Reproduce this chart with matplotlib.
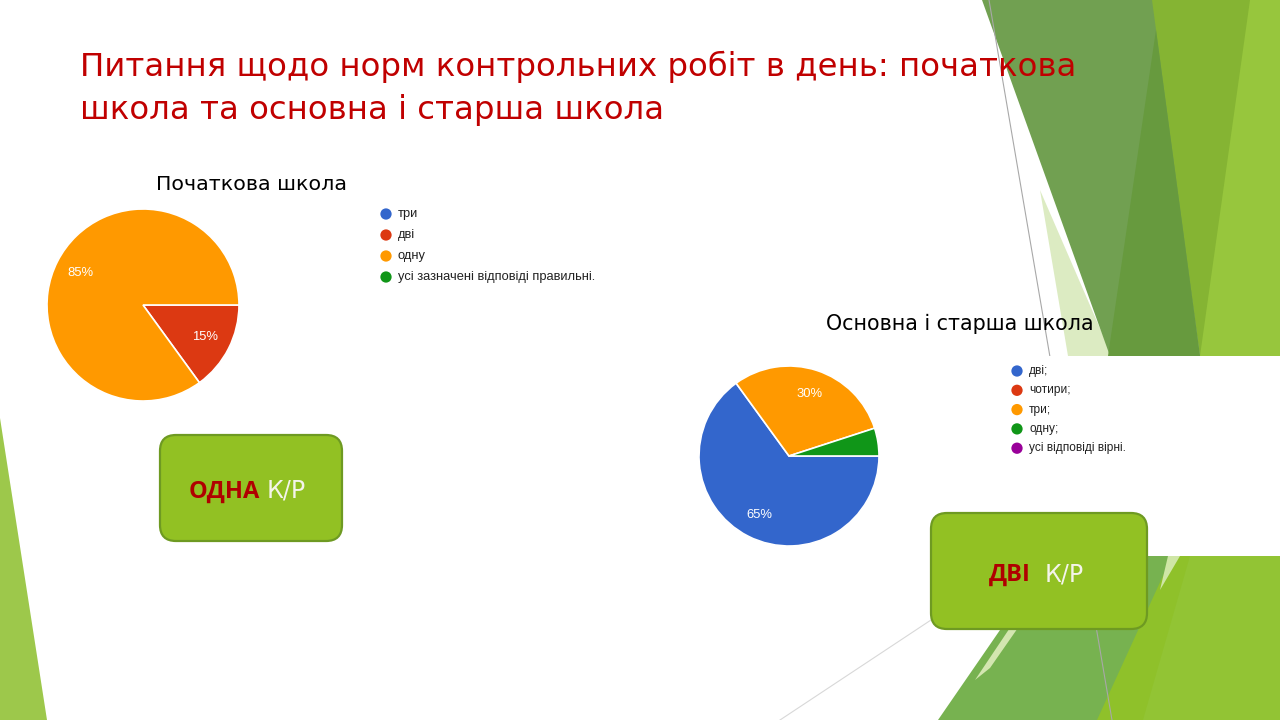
import matplotlib
matplotlib.use('Agg')
import matplotlib.pyplot as plt
from matplotlib.patches import Polygon, FancyBboxPatch, Rectangle

# ---------------- data ----------------
title_lines = ["Питання щодо норм контрольних робіт в день: початкова",
               "школа та основна і старша школа"]

pie1_title = "Початкова школа"
pie1_labels = ["три", "дві", "одну", "усі зазначені відповіді правильні."]
pie1_values = [0, 15, 85, 0]
pie1_colors = ["#3366CC", "#DC3912", "#FF9900", "#109618"]

pie2_title = "Основна і старша школа"
pie2_labels = ["дві;", "чотири;", "три;", "одну;", "усі відповіді вірні."]
pie2_values = [65, 0, 30, 5, 0]
pie2_colors = ["#3366CC", "#DC3912", "#FF9900", "#109618", "#990099"]

box1_bold, box1_rest = "ОДНА", "К/Р"
box2_bold, box2_rest = "ДВІ", "К/Р"

# ---------------- figure ----------------
W, H = 1280, 720
fig = plt.figure(figsize=(12.8, 7.2), dpi=100)
fig.patch.set_facecolor("white")
bg = fig.add_axes([0, 0, 1, 1])
bg.set_xlim(0, W)
bg.set_ylim(H, 0)
bg.axis("off")

def poly(pts, color, z=1, alpha=1.0):
    bg.add_patch(Polygon(pts, closed=True, facecolor=color, edgecolor="none",
                         zorder=z, alpha=alpha))

# decorative background shapes (top right)
poly([(1150, 0), (1280, 0), (1280, 356), (1200, 356)], "#97C63D", 1)
poly([(1150, 0), (1250, 0), (1200, 356)], "#85B433", 1.1)
poly([(1040, 190), (1112, 356), (1068, 356)], "#DCEBC2", 1.2)
poly([(982, 0), (1152, 0), (1200, 356), (1110, 356)], "#71A051", 1.3)
poly([(1156, 30), (1200, 356), (1108, 356)], "#679A3E", 1.4)
# decorative background shapes (bottom right)
poly([(938, 720), (1051, 556), (1280, 556), (1280, 720)], "#77B250", 1)
poly([(1097, 720), (1172, 556), (1280, 556), (1280, 720)], "#8FC12A", 1.1)
poly([(1143, 720), (1190, 556), (1280, 556), (1280, 720)], "#92C434", 1.15)
poly([(975, 680), (1058, 556), (1068, 556), (990, 668)], "#D3E6B0", 1.2)
poly([(1168, 556), (1180, 556), (1160, 590)], "#CFE6A6", 1.2)
# left strip
poly([(0, 418), (0, 720), (47, 720)], "#9DC84B", 1)
# thin lines
bg.plot([989, 1112], [0, 720], color="#A8A8A8", lw=0.8, zorder=1.6)
bg.plot([931, 780], [620, 720], color="#D8D8D8", lw=0.8, zorder=1.6)

# white chart-image background of second chart
bg.add_patch(Rectangle((690, 356), 590, 200, facecolor="white", edgecolor="none", zorder=2))

# ---------------- title ----------------
tfont = "DejaVu Sans"
t1 = bg.text(80, 76, title_lines[0], fontsize=24, color="#C00000", va="baseline",
             ha="left", family=tfont, zorder=5)
fig.canvas.draw()
w1 = t1.get_window_extent().width
fs_title = 24 * 995 / w1
t1.set_fontsize(fs_title)
bg.text(80, 119, title_lines[1], fontsize=fs_title, color="#C00000", va="baseline",
        ha="left", family=tfont, zorder=5)

# ---------------- pies ----------------
def pie_axes(cx, cy, r):
    ax = fig.add_axes([(cx - r) / W, 1 - (cy + r) / H, 2 * r / W, 2 * r / H])
    return ax

def draw_pie(ax, values, colors):
    vals = [v for v in values if v > 0]
    cols = [c for v, c in zip(values, colors) if v > 0]
    ax.pie(vals, colors=cols, startangle=0, counterclock=False,
           autopct=lambda p: f"{p:.0f}%" if p >= 10 else "",
           pctdistance=0.73,
           wedgeprops=dict(edgecolor="white", linewidth=1.2),
           textprops=dict(color="white", fontsize=9.4, family="Liberation Sans"))
    ax.set_xlim(-1, 1)
    ax.set_ylim(-1, 1)
    ax.set_aspect("equal")
    ax.axis("off")

ax1 = pie_axes(143, 305, 96)
draw_pie(ax1, pie1_values, pie1_colors)
ax2 = pie_axes(789, 456, 90)
draw_pie(ax2, pie2_values, pie2_colors)
ax2.set_zorder(3)

def fit_center_text(x, y, s, width, fs0=14, **kw):
    t = bg.text(x, y, s, fontsize=fs0, ha="center", va="baseline", zorder=5, **kw)
    fig.canvas.draw()
    t.set_fontsize(fs0 * width / t.get_window_extent().width)
    return t

fit_center_text(251, 190, pie1_title, 190, color="black", family="DejaVu Sans")
fit_center_text(960, 330, pie2_title, 269, color="black", family="DejaVu Sans")

# ---------------- legends ----------------
def legend(x, y0, dy, labels, colors, fs):
    for i, (lab, col) in enumerate(zip(labels, colors)):
        y = y0 + i * dy
        bg.scatter([x], [y], s=66, color=col, edgecolor="none", zorder=4)
        bg.text(x + 12, y, lab, fontsize=fs, va="center", ha="left",
                color="#222222", family="Liberation Sans", zorder=4)

legend(386, 214, 21, pie1_labels, pie1_colors, 9.3)
legend(1017, 371, 19.3, pie2_labels, pie2_colors, 8.6)

# ---------------- answer boxes ----------------
def answer_box(x0, y0, x1, y1, bold, rest, bx, by, fs, gap):
    bg.add_patch(FancyBboxPatch((x0 + 14, y0 + 14), (x1 - x0) - 28, (y1 - y0) - 28,
                                boxstyle="round,pad=14,rounding_size=16",
                                facecolor="#92C123", edgecolor="#6E9A22",
                                linewidth=1.6, zorder=6))
    bg.text(bx, by, bold, fontsize=fs, fontweight="bold", color="#B00000",
            ha="right", va="baseline", family="Open Sans", zorder=7)
    bg.text(bx + gap, by, rest, fontsize=fs, color="#F4F4EA",
            ha="left", va="baseline", family="DejaVu Sans", zorder=7)

answer_box(160, 435, 342, 541, box1_bold, box1_rest, 260, 498, 17, 7)
answer_box(931, 513, 1147, 629, box2_bold, box2_rest, 1031, 581, 17, 14)

fig.savefig("out.png", dpi=100, facecolor="white")
